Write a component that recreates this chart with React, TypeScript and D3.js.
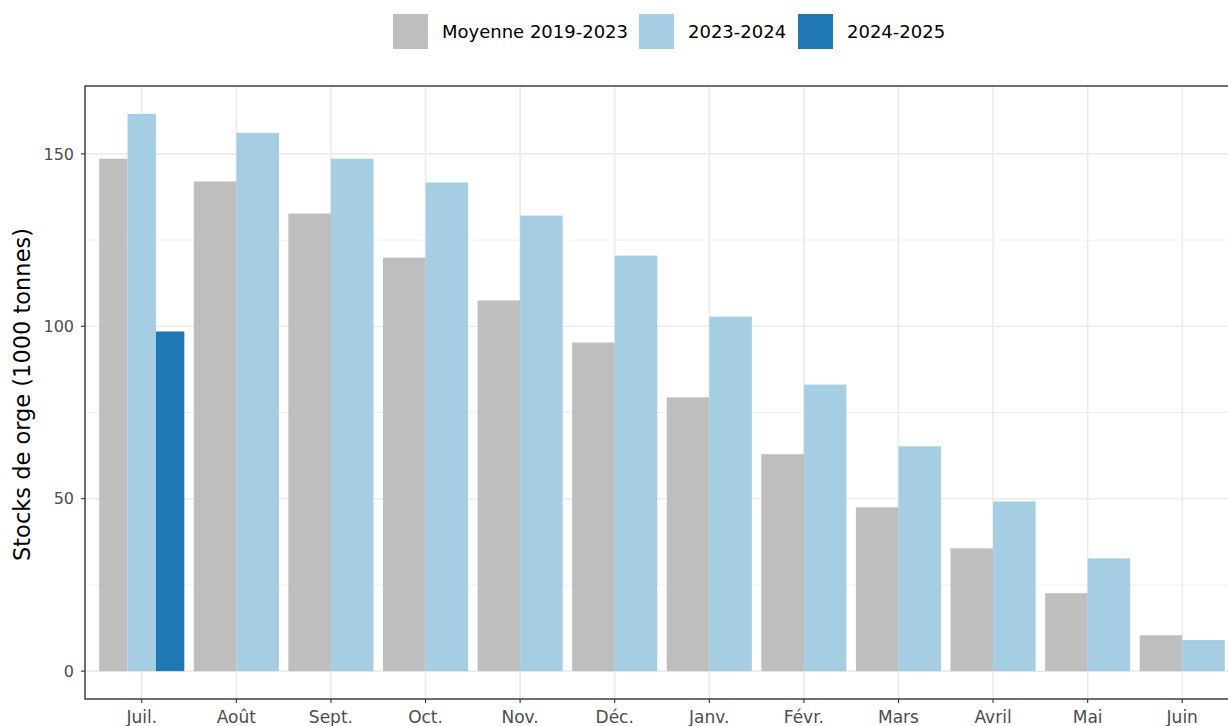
import { useEffect, useRef } from "react";
import * as d3 from "d3";

const months = ["Juil.", "Août", "Sept.", "Oct.", "Nov.", "Déc.", "Janv.", "Févr.", "Mars", "Avril", "Mai", "Juin"];
const seriesNames = ["Moyenne 2019-2023", "2023-2024", "2024-2025"];
const seriesColors = ["#bebebe", "#a6cee3", "#1f78b4"];

const moyenne = [148.6, 142, 132.7, 119.9, 107.5, 95.3, 79.4, 62.9, 47.5, 35.6, 22.6, 10.4];
const s2023 = [161.6, 156.1, 148.6, 141.7, 132.1, 120.5, 102.8, 83.1, 65.2, 49.2, 32.7, 9.0];
const s2024 = [98.5];

const yTicks = [0, 50, 100, 150];
const yMinor = [25, 75, 125];

const FONT = "'DejaVu Sans', 'Noto Sans', sans-serif";

const App = () => {
    const ref = useRef<HTMLDivElement>(null);

    useEffect(() => {
        document.body.style.margin = "0";
        const width = 1228;
        const height = 726;
        const left = 85;
        const right = 1239;
        const top = 86;
        const bottom = 699;

        const allSeries = [moyenne, s2023, s2024];
        const maxVal = d3.max(allSeries.flat()) as number;
        const pad = maxVal * 0.05;

        // continuous position for discrete months, ggplot style (0.6 expansion)
        const x = d3.scaleLinear([0.4, months.length + 0.6], [left, right]);
        const y = d3.scaleLinear([-pad, maxVal + pad], [bottom, top]);

        const svg = d3
            .create("svg")
            .attr("width", width)
            .attr("height", height)
            .attr("viewBox", [0, 0, width, height])
            .style("display", "block")
            .style("font-family", FONT);

        const panel = svg.append("g");
        panel
            .append("rect")
            .attr("x", left)
            .attr("y", top)
            .attr("width", right - left)
            .attr("height", bottom - top)
            .attr("fill", "white");

        // grid lines
        panel
            .selectAll(".minor")
            .data(yMinor)
            .join("line")
            .attr("x1", left)
            .attr("x2", right)
            .attr("y1", (d) => y(d))
            .attr("y2", (d) => y(d))
            .attr("stroke", "#ebebeb")
            .attr("stroke-width", 0.8);
        panel
            .selectAll(".major")
            .data(yTicks)
            .join("line")
            .attr("x1", left)
            .attr("x2", right)
            .attr("y1", (d) => y(d))
            .attr("y2", (d) => y(d))
            .attr("stroke", "#ebebeb")
            .attr("stroke-width", 1.6);
        panel
            .selectAll(".vgrid")
            .data(months)
            .join("line")
            .attr("x1", (_, i) => x(i + 1))
            .attr("x2", (_, i) => x(i + 1))
            .attr("y1", top)
            .attr("y2", bottom)
            .attr("stroke", "#ebebeb")
            .attr("stroke-width", 1.6);

        // bars, dodged among the series present in each month
        months.forEach((m, i) => {
            const present = allSeries
                .map((s, k) => ({ k, v: s[i] }))
                .filter((d) => d.v !== undefined);
            const w = 0.9 / present.length;
            present.forEach((d, j) => {
                const x0 = i + 1 - 0.45 + j * w;
                panel
                    .append("rect")
                    .attr("x", x(x0))
                    .attr("width", x(x0 + w) - x(x0))
                    .attr("y", y(d.v))
                    .attr("height", y(0) - y(d.v))
                    .attr("fill", seriesColors[d.k]);
            });
        });

        panel
            .append("rect")
            .attr("x", left)
            .attr("y", top)
            .attr("width", right - left)
            .attr("height", bottom - top)
            .attr("fill", "none")
            .attr("stroke", "#333333")
            .attr("stroke-width", 1.4);

        // y axis
        const yAxis = svg.append("g");
        yTicks.forEach((t) => {
            yAxis
                .append("line")
                .attr("x1", left - 4)
                .attr("x2", left)
                .attr("y1", y(t))
                .attr("y2", y(t))
                .attr("stroke", "#333333")
                .attr("stroke-width", 1.1);
            yAxis
                .append("text")
                .attr("x", left - 11)
                .attr("y", y(t))
                .attr("dy", "0.36em")
                .attr("text-anchor", "end")
                .attr("fill", "#4d4d4d")
                .attr("font-size", 16)
                .text(t);
        });

        // x axis
        const xAxis = svg.append("g");
        months.forEach((m, i) => {
            xAxis
                .append("line")
                .attr("x1", x(i + 1))
                .attr("x2", x(i + 1))
                .attr("y1", bottom)
                .attr("y2", bottom + 4)
                .attr("stroke", "#333333")
                .attr("stroke-width", 1.1);
            xAxis
                .append("text")
                .attr("x", x(i + 1))
                .attr("y", 723)
                .attr("text-anchor", "middle")
                .attr("fill", "#4d4d4d")
                .attr("font-size", 17)
                .text(m);
        });

        // y title
        svg.append("text")
            .attr("transform", `translate(30,${(top + bottom) / 2 + 2}) rotate(-90)`)
            .attr("text-anchor", "middle")
            .attr("fill", "black")
            .attr("font-size", 22.5)
            .text("Stocks de orge (1000 tonnes)");

        // legend
        const legendX = [393, 639, 798];
        const legend = svg.append("g");
        seriesNames.forEach((name, k) => {
            legend
                .append("rect")
                .attr("x", legendX[k])
                .attr("y", 14)
                .attr("width", 35)
                .attr("height", 35)
                .attr("fill", seriesColors[k]);
            legend
                .append("text")
                .attr("x", legendX[k] + 49)
                .attr("y", 38)
                .attr("fill", "black")
                .attr("font-size", 18)
                .text(name);
        });

        ref.current!.innerHTML = "";
        ref.current!.appendChild(svg.node()!);
    }, []);

    return <div ref={ref}></div>;
};

export default App;
